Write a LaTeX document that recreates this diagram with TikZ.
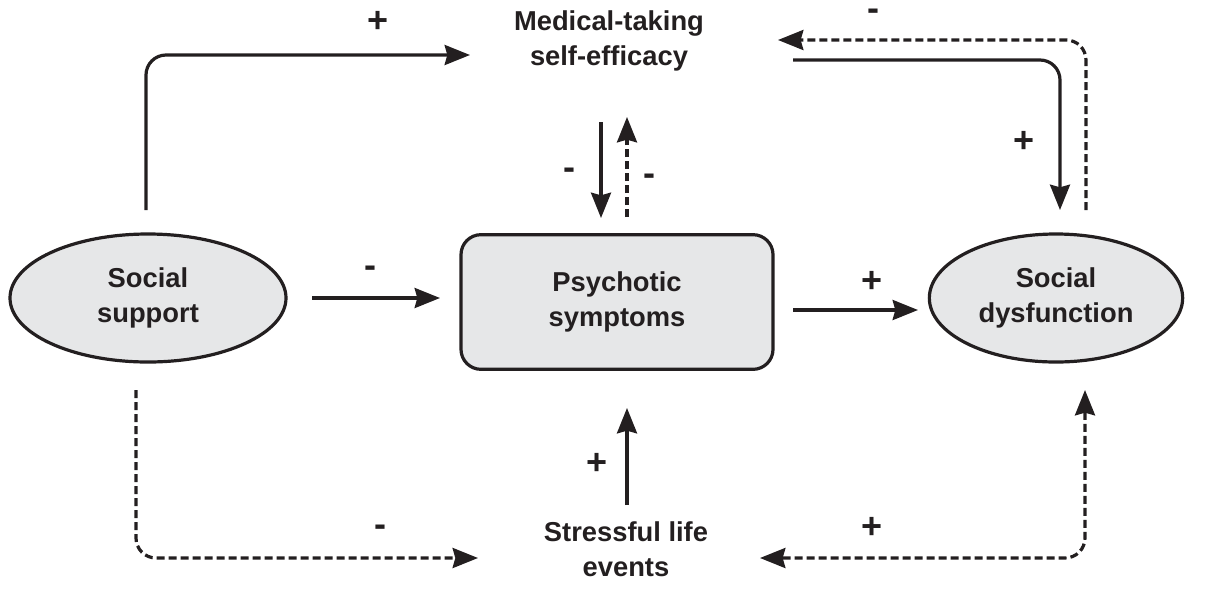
\documentclass[tikz,border=0pt]{standalone}
\usepackage{fontspec}
\setmainfont{Liberation Sans}
\usetikzlibrary{arrows.meta,calc,shapes.geometric}
\definecolor{ink}{HTML}{231F20}
\definecolor{boxfill}{HTML}{E6E7E8}
\tikzset{
  conn/.style={line width=2.4pt, draw=ink},
  tip/.style={conn, -{Stealth[length=19pt,width=15pt,inset=2pt]}},
  tipboth/.style={conn, {Stealth[length=19pt,width=15pt,inset=2pt]}-{Stealth[length=19pt,width=15pt,inset=2pt]}},
  dsh/.style={dash pattern=on 6pt off 3pt},
  lbl/.style={font=\fontsize{20.5}{26}\selectfont\bfseries, text=ink, align=center, inner sep=0pt},
  sgn/.style={font=\fontsize{27}{30}\selectfont\bfseries, text=ink, inner sep=0pt},
  oval/.style={ellipse, draw=ink, fill=boxfill, line width=2.4pt, inner sep=0pt},
  rbox/.style={rectangle, rounded corners=15pt, draw=ink, fill=boxfill, line width=2.4pt, inner sep=0pt}
}
\begin{document}
\begin{tikzpicture}[x=0.75pt,y=-0.75pt]
\useasboundingbox (0,0) rectangle (1206,594);
% nodes
\node[oval, minimum width=207pt, minimum height=96pt, lbl] (ss) at (148,298) {Social\\support};
\node[rbox, minimum width=234pt, minimum height=101pt, lbl] (ps) at (617,302) {Psychotic\\symptoms};
\node[oval, minimum width=190pt, minimum height=96pt, lbl] (sd) at (1056,298) {Social\\dysfunction};
\node[lbl] (med) at (609,41) {Medical-taking\\self-efficacy};
\node[lbl] (st) at (626,549) {Stressful life\\events};
% connectors
\draw[tip, rounded corners=15pt] ($(ss.center)+(-2,-88)$) |- ($(med.center)+(-139,14)$);
\draw[tip] ($(ss.center)+(164,0)$) -- ($(ps.center)+(-177,-4)$);
\draw[tip] ($(ps.center)+(176,8)$) -- ($(sd.center)+(-138,12)$);
\draw[tip] ($(med.center)+(-8,81)$) -- ($(ps.center)+(-16,-84)$);
\draw[tip, dsh] ($(ps.center)+(10,-85)$) -- ($(med.center)+(18,76)$);
\draw[tip, rounded corners=15pt] ($(med.center)+(184,19)$) -| ($(sd.center)+(4,-88)$);
\draw[tip, dsh, rounded corners=15pt] ($(sd.center)+(30,-88)$) |- ($(med.center)+(169,-1)$);
\draw[tip] ($(st.center)+(1,-44)$) -- ($(ps.center)+(10,106)$);
\draw[tip, dsh, rounded corners=15pt] ($(ss.center)+(-12,92)$) |- ($(st.center)+(-148,9)$);
\draw[tipboth, dsh, rounded corners=15pt] ($(sd.center)+(29,92)$) |- ($(st.center)+(134,9)$);
% signs
\node[sgn] (s1) at (378,22) {+};
\node[sgn] (s2) at (370,272) {-};
\node[sgn] (s3) at (872,282) {+};
\node[sgn] (s4) at (569,174) {-};
\node[sgn] (s5) at (649,180) {-};
\node[sgn] (s6) at (1024,142) {+};
\node[sgn] (s7) at (873,15) {-};
\node[sgn] (s8) at (597,464) {+};
\node[sgn] (s9) at (380,531) {-};
\node[sgn] (s10) at (872,528) {+};
\end{tikzpicture}
\end{document}
